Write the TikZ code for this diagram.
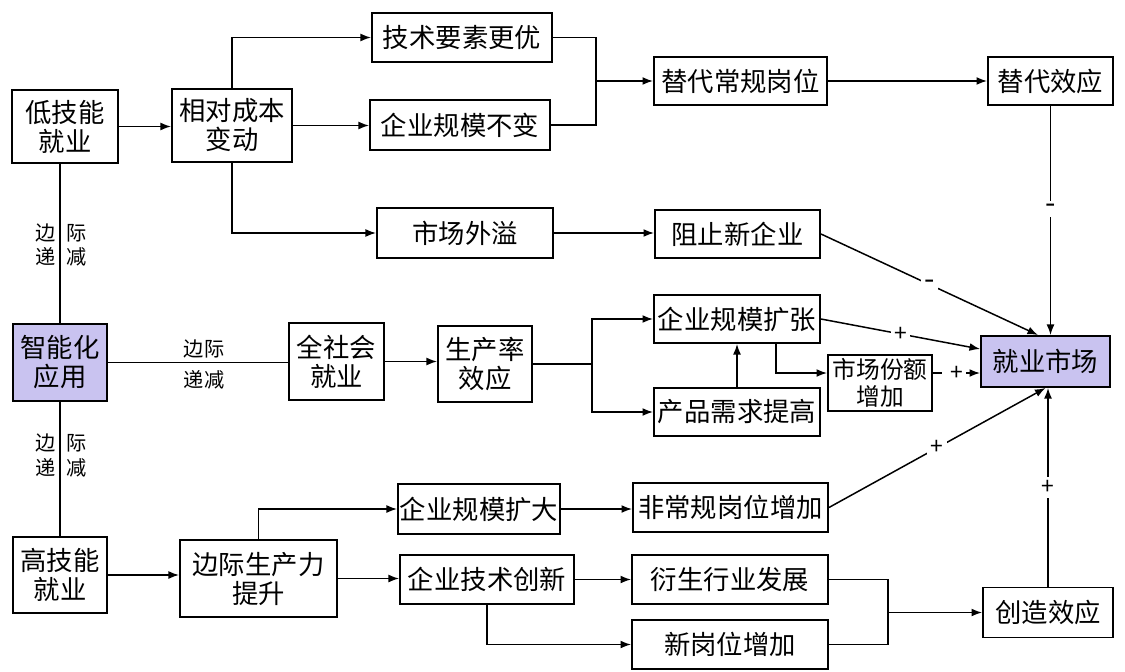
\documentclass[tikz,border=0pt]{standalone}
\usepackage{fontspec}
\setmainfont{Noto Sans CJK SC}
\usetikzlibrary{arrows.meta}
\definecolor{lav}{RGB}{201,195,240}

\begin{document}
\begin{tikzpicture}[x=0.02cm,y=-0.02cm,
    box/.style={draw,line width=1.1pt,align=center,inner sep=1pt,
      font=\fontsize{15}{16.5}\selectfont},
    hl/.style={box,fill=lav},
    sml/.style={box,font=\fontsize{13.5}{15.5}\selectfont},
    lnk/.style={line width=0.85pt},
    arr/.style={lnk,-{Latex[length=6pt,width=4.5pt]}},
    sgn/.style={fill=white,inner sep=2pt,font=\fontsize{13}{14}\selectfont},
    neg/.style={sgn,font=\fontsize{17}{18}\selectfont},
    side/.style={inner sep=0pt,font=\fontsize{11.5}{12}\selectfont}
  ]
  \useasboundingbox (0,0) rectangle (1125,672);

  % boxes: name/x/y/width/height/style/text
  \foreach \n/\x/\y/\w/\h/\s/\t in {
      low/65/126.5/106/73/box/{低技能\\就业},
      cost/232/125.5/120/73/box/{相对成本\\变动},
      tech/462/37.5/180/49/box/{技术要素更优},
      scale/460/125/180/50/box/{企业规模不变},
      spill/465/233/176/50/box/{市场外溢},
      repl/740.5/81/173/48/box/{替代常规岗位},
      block/737.5/234/165/48/box/{阻止新企业},
      subst/1050.5/81/125/48/box/{替代效应},
      ai/60/362.5/94/77/hl/{智能化\\应用},
      soc/336.5/361.5/95/77/box/{全社会\\就业},
      prod/485/364/94/76/box/{生产率\\效应},
      expand/737/319/166/48/box/{企业规模扩张},
      demand/737/412/166/48/box/{产品需求提高},
      share/880/383/104/56/sml/{市场份额\\增加},
      market/1045.5/361.5/129/51/hl/{就业市场},
      high/60/575/94/76/box/{高技能\\就业},
      mpl/258.5/578.5/157/77/box/{边际生产力\\提升},
      enl/479/509/162/50/box/{企业规模扩大},
      innov/487/579.5/174/49/box/{企业技术创新},
      nonr/730.5/507.5/195/49/box/{非常规岗位增加},
      deriv/730/579.5/196/49/box/{衍生行业发展},
      newj/730/644.5/196/49/box/{新岗位增加},
      create/1048/612.5/130/50/box/{创造效应}}
    \node[\s,minimum width=\w*0.02cm,minimum height=\h*0.02cm] (\n) at (\x,\y) {\t};

  % low-skill branch
  \draw[arr] (low.east) -- (low.east -| cost.west);
  \draw[arr] (cost.north) |- (tech.west);
  \draw[arr] (cost.east) -- (cost.east -| scale.west);
  \draw[arr] (cost.south) |- (spill.west);
  \coordinate (j1) at (596,81);
  \draw[lnk] (tech.east) -| (j1) |- (scale.east);
  \draw[arr] (j1) -- (repl.west);
  \draw[arr] (repl) -- (subst);
  \draw[arr] (spill.east) -- (spill.east -| block.west);
  \draw[arr] (subst.south) -- node[neg,pos=0.45] (m1) {-} (subst.south |- market.north);
  \draw[arr] (block.east) -- node[neg] (m2) {-} ([xshift=-0.15cm]market.north);

  % intelligent application
  \draw[lnk] (ai.north) -- (ai.north |- low.south);
  \node[side] (e1) at (46,233) {边};
  \node[side] (e2) at (77,233) {际};
  \node[side] (e3) at (46,257) {递};
  \node[side] (e4) at (77,257) {减};
  \draw[lnk] (ai.south) -- (ai.south |- high.north);
  \node[side] (f1) at (46,443) {边};
  \node[side] (f2) at (77,443) {际};
  \node[side] (f3) at (46,468) {递};
  \node[side] (f4) at (77,468) {减};
  \draw[lnk] (ai.east) -- (ai.east -| soc.west);
  \node[side] (g1) at (204,349) {边际};
  \node[side] (g2) at (204,380) {递减};

  % productivity branch
  \draw[arr] (soc.east) -- (soc.east -| prod.west);
  \coordinate (j2) at (592,364);
  \draw[lnk] (prod.east) -- (j2);
  \draw[arr] (j2) |- (expand.west);
  \draw[arr] (j2) |- (demand.west);
  \draw[arr] (demand.north) -- (expand.south);
  \coordinate (s0) at ([yshift=0.2cm]share.west);
  \draw[arr] ([xshift=0.78cm]expand.south) |- (s0);
  \draw[arr] (expand.east) -- node[sgn] (p1) {+} ([yshift=0.25cm]market.west);
  \coordinate (s1) at ([yshift=0.2cm]share.east);
  \draw[arr,dash pattern=on 5pt off 3pt] (s1) -- node[sgn] (p2) {+} (s1 -| market.west);

  % high-skill branch
  \draw[arr] (high.east) -- (high.east -| mpl.west);
  \draw[arr] (mpl.north) |- (enl.west);
  \draw[arr] (mpl.east) -- (mpl.east -| innov.west);
  \draw[arr] (enl.east) -- (enl.east -| nonr.west);
  \draw[arr] (innov.east) -- (innov.east -| deriv.west);
  \draw[arr] (innov.south) |- (newj.west);
  \coordinate (j3) at (888,612.5);
  \draw[lnk] (deriv.east) -| (j3) |- (newj.east);
  \draw[arr] (j3) -- (create.west);
  \draw[arr] (nonr.east) -- node[sgn] (p3) {+} (market.south);
  \draw[arr] (create.north) -- node[sgn] (p4) {+} (create.north |- market.south);
\end{tikzpicture}
\end{document}
